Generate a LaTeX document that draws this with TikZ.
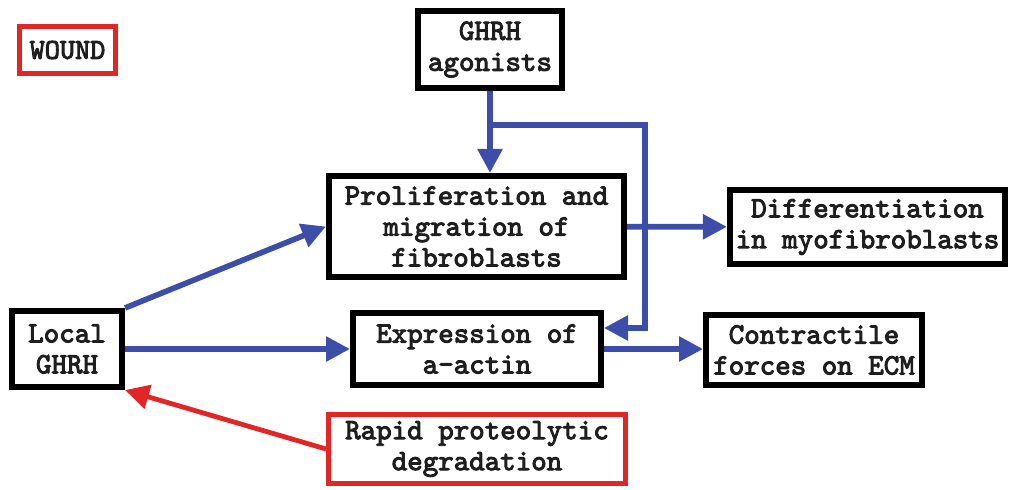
\documentclass[tikz,border=0pt]{standalone}
\usepackage{fontspec}
\newfontfamily\boxfont[Extension=.otf, AutoFakeBold=3.2]{lmmono10-regular}
\usepackage{xcolor}
\usetikzlibrary{arrows.meta,positioning,calc}
\definecolor{woundred}{RGB}{226,38,38}
\definecolor{signalblue}{RGB}{60,78,170}
\definecolor{boxtext}{RGB}{30,30,30}

\begin{document}
\begin{tikzpicture}[x=0.025cm,y=-0.025cm,
		box/.style={draw=black, line width=4.2pt, fill=white, align=center, inner sep=0pt,
			text=boxtext, font=\fontsize{21}{22}\selectfont\boxfont\bfseries},
		redbox/.style={box, draw=woundred, line width=3.2pt},
		flow/.style={draw=signalblue, line width=4pt, -{Triangle[length=0.6cm,width=0.6cm]}},
		redflow/.style={flow, draw=woundred, fill=woundred, line width=3.4pt}]
	\useasboundingbox (0,0) rectangle (1012,489);
	
	% Draw boxes
	\node[redbox, minimum width=2.4cm, minimum height=1.18cm, font=\fontsize{20.5}{22}\selectfont\boxfont\bfseries] (wound) at (67.5,50) {WOUND};
	\node[box, minimum width=3.6cm, minimum height=1.93cm] (agonists) at (490,49.5) {GHRH\\agonists};
	\node[box, minimum width=7.38cm, minimum height=2.53cm] (prolif) at (476.5,226.5) {Proliferation and\\migration of\\fibroblasts};
	\node[box, minimum width=6.88cm, minimum height=1.855cm] (diff) at (867.5,227) {Differentiation\\in myofibroblasts};
	\node[box, minimum width=2.755cm, minimum height=1.905cm] (local) at (67,349) {Local\\GHRH};
	\node[box, minimum width=6.2cm, minimum height=1.805cm] (expr) at (477,349) {Expression of\\a-actin};
	\node[box, minimum width=5.4cm, minimum height=1.755cm] (contr) at (814,350) {Contractile\\forces on ECM};
	\node[redbox, minimum width=7.43cm, minimum height=1.73cm] (rapid) at (477,449) {Rapid proteolytic\\degradation};
	
	% Draw connections
	\coordinate (branch) at (490,125);
	\coordinate (turn) at (645,328);
	\draw[flow] (agonists.south) -- (agonists.south |- prolif.north);
	\draw[flow] (branch) -| (turn) -- (turn -| expr.east);
	\draw[flow] (local.north east) -- (prolif.west);
	\draw[flow] (local) -- (expr);
	\draw[flow] (prolif) -- (diff);
	\draw[flow] (expr.east) -- (expr.east -| contr.west);
	\draw[redflow] (rapid.west) -- (local.south east);
\end{tikzpicture}
\end{document}
